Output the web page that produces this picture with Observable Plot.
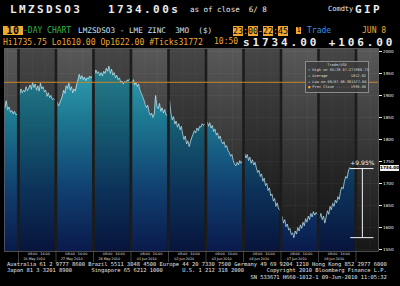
<!DOCTYPE html>
<html><head><meta charset="utf-8">
<script src="https://cdn.jsdelivr.net/npm/d3@7"></script>
<script src="https://cdn.jsdelivr.net/npm/@observablehq/plot@0.6"></script>
<style>
html,body{margin:0;padding:0;background:#000;}
#wrap{position:relative;width:400px;height:286px;overflow:hidden;background:#000;font-family:"DejaVu Sans Mono",monospace;}
#wrap svg{position:absolute;left:0;top:0;}
.t{position:absolute;white-space:pre;line-height:1;}
.big{font-weight:bold;font-size:11px;letter-spacing:2.4px;color:#ececec;}
.sm{font-size:8px;}
.or{color:#f0a830;}
.box{background:#f0a830;color:#000;}
#legend{position:absolute;left:305px;top:61px;width:64px;height:32px;background:rgba(60,60,60,0.88);border:1px solid #8a8a8a;font-family:"DejaVu Sans Mono",monospace;font-size:3.6px;color:#dcdcdc;padding:1px 2px;box-sizing:border-box;}
#legend .r{display:flex;justify-content:space-between;height:5.8px;line-height:5.8px;white-space:pre;}
#legend .c{text-align:center;height:5px;line-height:5px;}
#pbox{position:absolute;left:380px;width:19px;height:6.5px;background:#f2f2f2;color:#000;font-family:"DejaVu Sans",sans-serif;font-weight:bold;font-size:4.2px;line-height:6.5px;text-align:center;}
#foot{position:absolute;left:7px;top:261px;font-size:5.4px;line-height:6.3px;color:#e4e4e4;white-space:pre;margin:0;font-family:"DejaVu Sans Mono",monospace;}
</style></head>
<body>
<div id="wrap">
  <div class="t big" style="left:10px;top:4px">LMZSDSO3</div>
  <div class="t big" style="left:108px;top:4px">1734.00s</div>
  <div class="t" style="left:190px;top:5.6px;font-size:7.5px;color:#ececec">as of close  6/ 8</div>
  <div class="t" style="left:328px;top:6px;font-size:7px;color:#ececec">Comdty</div>
  <div class="t big" style="left:355px;top:4px">GIP</div>

  <div class="t box" style="left:3px;top:26px;width:20px;height:9px;font-weight:bold;font-size:10px;line-height:9px;text-align:center;letter-spacing:0.5px">10</div>
  <div class="t sm" style="left:23px;top:27.2px;color:#2fb34a">-DAY CHART</div>
  <div class="t sm" style="left:78px;top:27.2px;font-size:7.7px;color:#cfe0ef">LMZSDSO3 - LME ZINC  3MO  ($)</div>
  <div class="t" style="left:233px;top:26.5px;font-size:8.3px;line-height:8px"><span class="box">23</span><span class="or">:</span><span class="box">00</span><span class="or">-</span><span class="box">22</span><span class="or">:</span><span class="box">45</span></div>
  <div class="t box" style="left:296px;top:27px;width:5px;height:7px;font-size:7px;line-height:7px;text-align:center">1</div>
  <div class="t sm" style="left:307px;top:27.2px;color:#3d8fe0">Trade</div>
  <div class="t sm or" style="left:362px;top:27.2px">JUN 8</div>

  <div class="t sm or" style="left:3px;top:38.2px;font-size:8.1px">Hi1735.75 Lo1610.00 Op1622.00 #Ticks31772</div>
  <div class="t sm or" style="left:214px;top:38.2px">10:50</div>
  <div class="t big" style="left:243px;top:36.7px;letter-spacing:2.9px">s1734.00 +106.00</div>

  <div id="legend">
    <div class="c">Trade/USD</div>
    <div class="r"><span>&#8593; High on 05/28 07:27</span><span>1966.75</span></div>
    <div class="r"><span>&#8596; Average</span><span>1812.62</span></div>
    <div class="r"><span>&#8595; Low on 06/07 06:36</span><span>1577.00</span></div>
    <div class="r"><span><span style="color:#f0a830">&#9632;</span> Prev Close ------</span><span>1930.00</span></div>
  </div>
  <div id="pbox">1734.00</div>
<pre id="foot">Australia 61 2 9777 8600 Brazil 5511 3048 4500 Europe 44 20 7330 7500 Germany 49 69 9204 1210 Hong Kong 852 2977 6000
Japan 81 3 3201 8900      Singapore 65 6212 1000      U.S. 1 212 318 2000       Copyright 2010 Bloomberg Finance L.P.
                                                                           SN 533671 H660-1012-1 09-Jun-2010 11:05:32</pre>
</div>
<script>
// ---- data ----
const dayNames = ["25 May 2010","26 May 2010","27 May 2010","28 May 2010","01 Jun 2010","02 Jun 2010","03 Jun 2010","04 Jun 2010","07 Jun 2010","08 Jun 2010"];
const p25May = [1872, 1888, 1868, 1874, 1862, 1866, 1858, 1864, 1856, 1858];
const p26May = [1902, 1915, 1906, 1912, 1908, 1920, 1911, 1916, 1924, 1914, 1930, 1918, 1926, 1912, 1922, 1910, 1928, 1915, 1920, 1908, 1912, 1898, 1906, 1895, 1900, 1891, 1893, 1890];
const p27May = [1885, 1876, 1882, 1890, 1898, 1912, 1905, 1922, 1916, 1928, 1912, 1920, 1906, 1915, 1910, 1925, 1935, 1948, 1938, 1945, 1936, 1942, 1934, 1940, 1938, 1944, 1940, 1944];
const p28May = [1948, 1958, 1950, 1954, 1945, 1952, 1944, 1955, 1950, 1962, 1955, 1966.75, 1950, 1960, 1946, 1952, 1940, 1946, 1936, 1940, 1930, 1933, 1926, 1932, 1929, 1935, 1934, 1938];
const p01Jun = [1926, 1936, 1924, 1930, 1920, 1926, 1912, 1905, 1898, 1890, 1880, 1872, 1878, 1862, 1855, 1860, 1850, 1858, 1900, 1875, 1870, 1882, 1864, 1872, 1860, 1868, 1856, 1855];
const p02Jun = [1888, 1860, 1845, 1852, 1835, 1842, 1828, 1836, 1822, 1830, 1812, 1800, 1808, 1790, 1797, 1784, 1795, 1805, 1812, 1820, 1815, 1826, 1820, 1830, 1828, 1836, 1832, 1835];
const p03Jun = [1840, 1830, 1838, 1826, 1832, 1818, 1824, 1810, 1815, 1802, 1808, 1796, 1790, 1795, 1782, 1786, 1775, 1770, 1762, 1766, 1752, 1744, 1740, 1748, 1742, 1752, 1746, 1750];
const p04Jun = [1768, 1758, 1766, 1752, 1760, 1746, 1754, 1742, 1748, 1735, 1725, 1730, 1716, 1722, 1705, 1712, 1695, 1700, 1684, 1690, 1672, 1676, 1660, 1666, 1648, 1656, 1642, 1640];
const p07Jun = [1625, 1610, 1618, 1602, 1608, 1594, 1598, 1584, 1588, 1577, 1592, 1585, 1600, 1592, 1606, 1598, 1612, 1604, 1620, 1612, 1626, 1618, 1632, 1624, 1636, 1628, 1634, 1630];
const p08Jun = [1622, 1632, 1618, 1626, 1610, 1624, 1638, 1630, 1648, 1640, 1655, 1648, 1662, 1656, 1670, 1664, 1682, 1692, 1688, 1705, 1716, 1712, 1728, 1735.75, 1734, 1734, 1734, 1734];
const priceDays = [p25May, p26May, p27May, p28May, p01Jun, p02Jun, p03Jun, p04Jun, p07Jun, p08Jun];
const yTicks = [2000, 1950, 1900, 1850, 1800, 1750, 1700, 1650, 1600, 1550];
const hourTicks = [{frac: 0.375, label: "08:00"}, {frac: 0.708, label: "16:00"}];
const prevClose = 1930;
const lowPrice = 1577;
const lastPrice = 1734;
const changeLabel = "+9.95%";
const xDomain = [0.627, 10.6];
const yDomain = [1545.5, 2006.8];
const bracketX = 10.17;

// ---- derived tables ----
const series = priceDays.flatMap((vals, d) => {
  const start = d === 0 ? xDomain[0] + 0.01 : d + 0.03;
  const end = d + 0.97;
  return vals.map((v, i) => ({day: d, x: start + (end - start) * i / (vals.length - 1), v}));
});
const boundaries = d3.range(1, 11);
const darkDays = [1, 3, 5, 7, 9];
const gridX = d3.range(0, 11).flatMap(d => hourTicks.map(h => d + h.frac)).filter(x => x > xDomain[0] && x < xDomain[1]);
const hourLabels = d3.range(1, 10).flatMap(d => hourTicks.map(h => ({x: d + h.frac, text: h.label})));
const dateLabels = d3.range(1, 10).map(d => ({x: d + 0.42, text: dayNames[d]}));

const plot = Plot.plot({
  width: 400, height: 286,
  marginTop: 48, marginBottom: 35, marginLeft: 4, marginRight: 22,
  style: {background: "transparent", color: "#f0f0f0", fontFamily: "DejaVu Sans", fontSize: "4.2px", overflow: "visible"},
  x: {domain: xDomain, axis: null},
  y: {domain: yDomain, axis: "right", ticks: yTicks, tickSize: 3, tickPadding: 1.5, label: null, tickFormat: d => String(d)},
  marks: [
    Plot.frame({fill: "url(#bgGrad)"}),
    Plot.ruleY(yTicks, {stroke: "#fff", strokeOpacity: 0.08, strokeWidth: 0.6}),
    Plot.ruleX(gridX, {stroke: "#fff", strokeOpacity: 0.07, strokeWidth: 0.6}),
    Plot.areaY(series, {x: "x", y1: yDomain[0], y2: "v", z: "day", fill: "url(#areaGrad)"}),
    Plot.rect(darkDays, {x1: d => d, x2: d => d + 1, fill: "#000", fillOpacity: 0.2}),
    Plot.line(series, {x: "x", y: "v", z: "day", stroke: "#c8eef6", strokeWidth: 0.7}),
    Plot.ruleX(boundaries, {stroke: "#1c1c1c", strokeWidth: 2.6}),
    Plot.ruleY([prevClose], {stroke: "#c8862a", strokeWidth: 1}),
    Plot.ruleX(boundaries, {y1: yDomain[0], y2: yDomain[0], insetBottom: -11, stroke: "#6a6a6a", strokeWidth: 0.6}),
    Plot.text(hourLabels, {x: "x", text: "text", frameAnchor: "bottom", lineAnchor: "middle", dy: 2.8, fontSize: 3.3, fill: "#e0e0e0"}),
    Plot.text(dateLabels, {x: "x", text: "text", frameAnchor: "bottom", lineAnchor: "middle", dy: 7, fontSize: 3.3, fill: "#e0e0e0"}),
    Plot.ruleX([bracketX], {y1: lowPrice, y2: lastPrice, stroke: "#f2f2f2", strokeWidth: 1}),
    Plot.ruleY([lowPrice, lastPrice], {x1: bracketX - 0.31, x2: bracketX + 0.31, stroke: "#f2f2f2", strokeWidth: 1}),
    Plot.text([changeLabel], {x: bracketX, y: lastPrice, dy: -5, text: d => d, fontSize: 6, fill: "#f2f2f2"}),
    Plot.frame({stroke: "#777", strokeWidth: 0.6})
  ]
});

const defs = d3.create("svg:defs");
const bg = defs.append("linearGradient").attr("id", "bgGrad").attr("gradientUnits", "userSpaceOnUse")
  .attr("x1", 0).attr("x2", 0).attr("y1", 48).attr("y2", 251);
bg.append("stop").attr("offset", "0%").attr("stop-color", "#585858");
bg.append("stop").attr("offset", "50%").attr("stop-color", "#363636");
bg.append("stop").attr("offset", "100%").attr("stop-color", "#161616");
const ag = defs.append("linearGradient").attr("id", "areaGrad").attr("gradientUnits", "userSpaceOnUse")
  .attr("x1", 0).attr("x2", 0).attr("y1", 48).attr("y2", 251);
ag.append("stop").attr("offset", "0%").attr("stop-color", "#38aebe");
ag.append("stop").attr("offset", "35%").attr("stop-color", "#1d7892");
ag.append("stop").attr("offset", "70%").attr("stop-color", "#103f70");
ag.append("stop").attr("offset", "100%").attr("stop-color", "#0a1a4c");
plot.insertBefore(defs.node(), plot.firstChild);

const wrap = document.getElementById("wrap");
wrap.insertBefore(plot, wrap.firstChild);
const py = plot.scale("y").apply(lastPrice);
document.getElementById("pbox").style.top = (py - 3.25) + "px";
</script>
</body></html>
